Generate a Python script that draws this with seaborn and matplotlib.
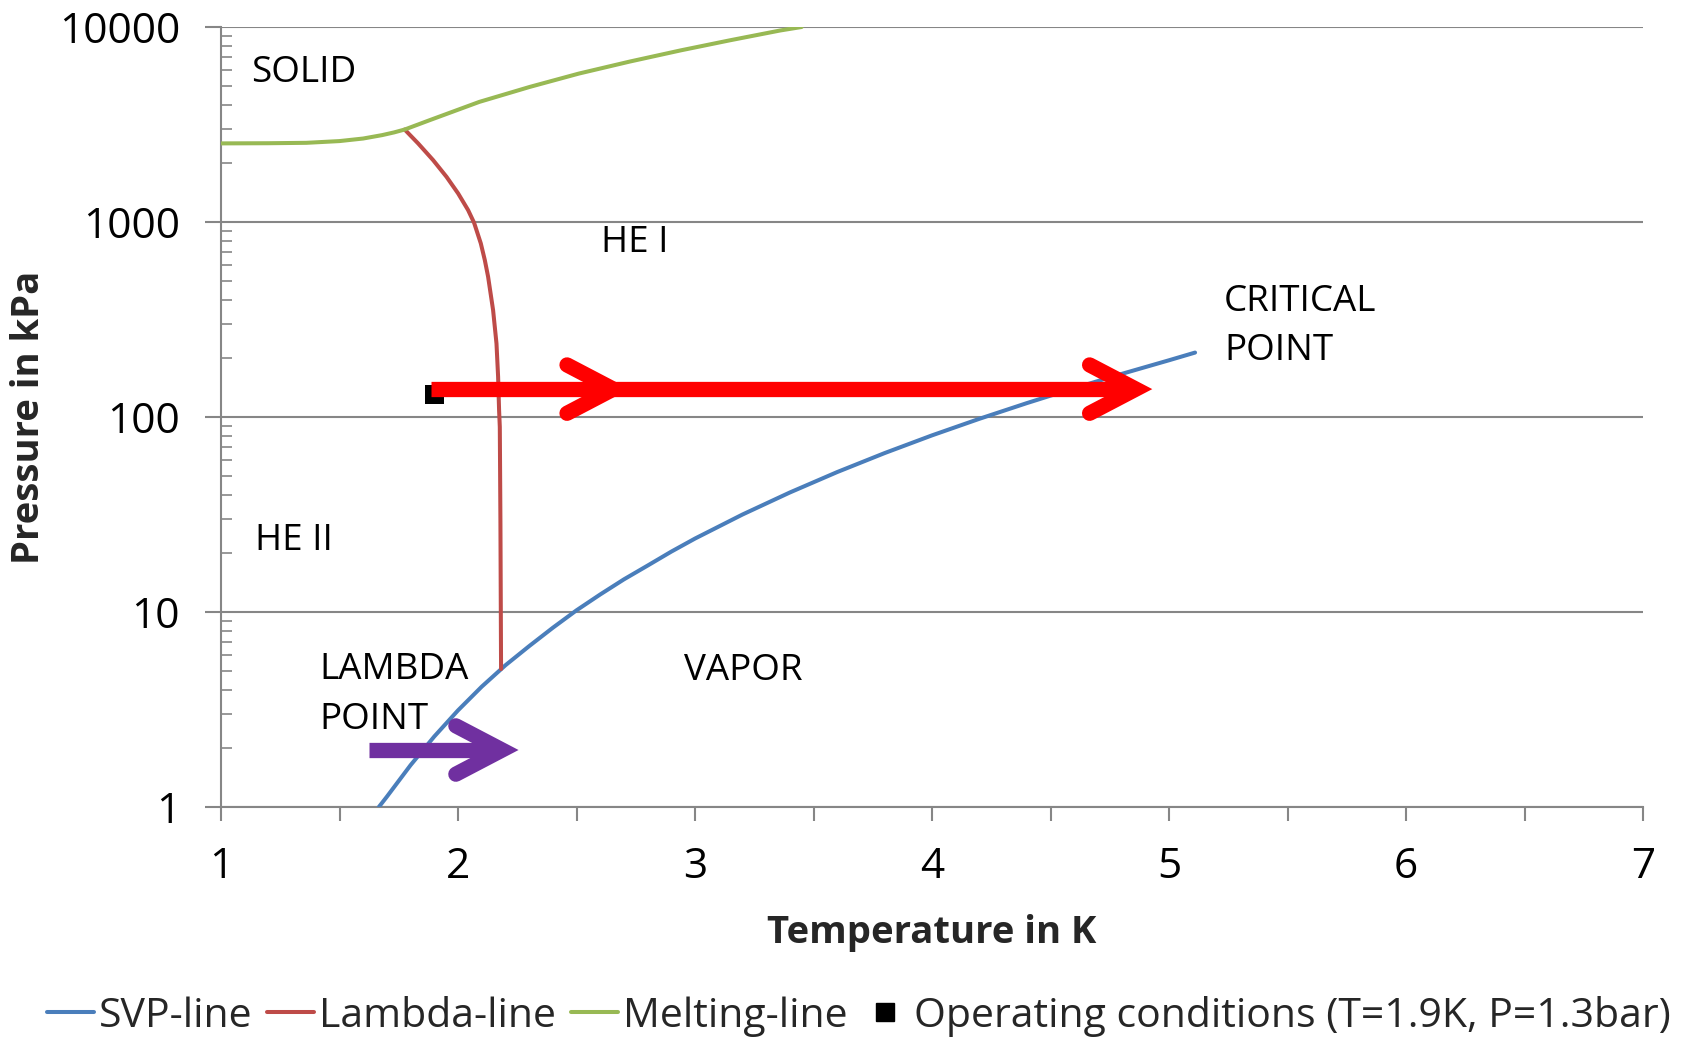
import numpy as np
import pandas as pd
import matplotlib
matplotlib.use("Agg")
import matplotlib.pyplot as plt
from matplotlib.lines import Line2D
from matplotlib.ticker import FixedLocator, FixedFormatter, LogLocator, NullFormatter, MultipleLocator
import seaborn as sns

# ---- Helium-4 phase boundaries (T in K, P in kPa) ----
svp_T = [1.666, 1.7, 1.8, 1.9, 2.0, 2.1, 2.2, 2.3, 2.4, 2.5, 2.6, 2.7, 2.8, 2.9, 3.0,
         3.2, 3.4, 3.6, 3.8, 4.0, 4.2, 4.4, 4.6, 4.8, 5.0, 5.11]
svp_P = [1.0, 1.13, 1.64, 2.30, 3.13, 4.14, 5.33, 6.68, 8.30, 10.2, 12.3, 14.7, 17.3, 20.4, 23.8,
         31.6, 41.0, 52.2, 65.3, 80.5, 97.9, 117.8, 140.5, 166.3, 195.4, 214.0]

lambda_T = [2.1817, 2.1790, 2.1764, 2.1734, 2.1692, 2.1624, 2.1481, 2.1270, 2.1131,
            2.0962, 2.0679, 2.0426, 2.0004, 1.9515, 1.8949, 1.8316, 1.775]
lambda_P = [5.1, 29.2, 89.0, 108.0, 161.0, 238.0, 353.0, 524.0, 638.0,
            777.0, 991.0, 1151.0, 1402.0, 1705.0, 2077.0, 2530.0, 2980.0]

melt_T = [1.0, 1.2, 1.36, 1.5, 1.6, 1.68, 1.73, 1.775, 1.881, 2.09, 2.303, 2.51, 2.725,
          2.94, 3.146, 3.36, 3.45]
melt_P = [2530.0, 2535.0, 2547.0, 2600.0, 2680.0, 2790.0, 2880.0, 2980.0, 3330.0, 4130.0,
          4930.0, 5770.0, 6650.0, 7590.0, 8540.0, 9600.0, 10000.0]

op_T = [1.9]
op_P = [130.0]

# region labels: (text, T, P)
region_text = ["SOLID", "HE I", "HE II", "CRITICAL\nPOINT", "VAPOR", "LAMBDA\nPOINT"]
region_T = [1.127, 2.604, 1.145, 5.232, 2.953, 1.417]
region_P = [5800.0, 782.0, 23.2, 292.0, 5.0, 3.75]

x_ticks = [1, 2, 3, 4, 5, 6, 7]
y_ticks = [1, 10, 100, 1000, 10000]
y_tick_labels = ["1", "10", "100", "1000", "10000"]

legend_labels = ["SVP-line", "Lambda-line", "Melting-line",
                 "Operating conditions (T=1.9K, P=1.3bar)"]

BLUE = "#4A7EBB"
RED = "#BE4B48"
GREEN = "#98B954"
GRID = "#868686"

sns.set_theme(style="white")
plt.rcParams["font.family"] = ["Open Sans", "DejaVu Sans"]

fig = plt.figure(figsize=(16.84, 10.39), dpi=100)
ax = fig.add_axes([221 / 1684, 1 - 807 / 1039, (1643 - 221) / 1684, (807 - 27) / 1039])
ax.set_yscale("log")

svp = pd.DataFrame({"T": svp_T, "P": svp_P})
lam = pd.DataFrame({"T": lambda_T, "P": lambda_P})
melt = pd.DataFrame({"T": melt_T, "P": melt_P})
op = pd.DataFrame({"T": op_T, "P": op_P})

line_kw = dict(sort=False, estimator=None, linewidth=2.9, ax=ax, legend=False)
sns.lineplot(data=svp, x="T", y="P", color=BLUE, zorder=3, **line_kw)
sns.lineplot(data=lam, x="T", y="P", color=RED, zorder=3, **line_kw)
sns.lineplot(data=melt, x="T", y="P", color=GREEN, zorder=3, **line_kw)
sns.scatterplot(data=op, x="T", y="P", marker="s", s=190, color="black",
                edgecolor="none", ax=ax, zorder=4, legend=False)

# ---- arrows: straight shaft plus a chevron head ----
ARM_DT = 0.195      # K, horizontal reach of a chevron arm
ARM_DEC = 0.124     # decades, vertical reach of a chevron arm
ARROW_LW = 11.0


def chevron(tip_T, P, color):
    xs = [tip_T - ARM_DT, tip_T, tip_T - ARM_DT]
    ys = [P * 10 ** ARM_DEC, P, P / 10 ** ARM_DEC]
    ax.plot(xs, ys, color=color, lw=ARROW_LW, solid_capstyle="round",
            solid_joinstyle="miter", zorder=6)


def shaft(t0, t1, P, color):
    ax.plot([t0, t1], [P, P], color=color, lw=ARROW_LW,
            solid_capstyle="butt", zorder=6)


red_P = 139.0
shaft(1.884, 4.84, red_P, "#FF0000")
chevron(2.655, red_P, "#FF0000")
chevron(4.86, red_P, "#FF0000")

purple_P = 1.96
shaft(1.625, 2.17, purple_P, "#7030A0")
chevron(2.186, purple_P, "#7030A0")

for txt, t, p in zip(region_text, region_T, region_P):
    ax.text(t, p, txt, fontsize=26.5, ha="left", va="center", color="black",
            linespacing=1.5, zorder=5)

# ---- axes styling ----
ax.set_xlim(1, 7)
ax.set_ylim(1, 10000)
ax.xaxis.set_major_locator(FixedLocator(x_ticks))
ax.xaxis.set_minor_locator(MultipleLocator(0.5))
ax.yaxis.set_major_locator(FixedLocator(y_ticks))
ax.yaxis.set_major_formatter(FixedFormatter(y_tick_labels))
ax.yaxis.set_minor_locator(LogLocator(base=10, subs=np.arange(2, 10)))
ax.yaxis.set_minor_formatter(NullFormatter())

ax.grid(False)
ax.yaxis.grid(True, which="major", color=GRID, linewidth=1.5, zorder=1)
for side in ("top", "right"):
    ax.spines[side].set_visible(False)
for side in ("left", "bottom"):
    ax.spines[side].set_color(GRID)
    ax.spines[side].set_linewidth(1.5)

ax.tick_params(axis="x", which="both", direction="out", length=10, width=1.5,
               color=GRID, labelsize=30.5, pad=18, labelcolor="black", bottom=True)
ax.tick_params(axis="y", which="major", direction="out", length=11.5, width=1.5,
               color=GRID, labelsize=30.5, pad=18, labelcolor="black", left=True)
ax.tick_params(axis="y", which="minor", direction="in", length=8, width=1.2,
               color=GRID, left=True)

ax.set_xlabel("Temperature in K", fontsize=27.5, fontweight="bold", labelpad=19)
ax.set_ylabel("Pressure in kPa", fontsize=27.5, fontweight="bold", labelpad=8)

handles = [
    Line2D([], [], color=BLUE, lw=2.9),
    Line2D([], [], color=RED, lw=2.9),
    Line2D([], [], color=GREEN, lw=2.9),
    Line2D([], [], color="black", marker="s", markersize=13, linestyle="none"),
]
fig.legend(handles, legend_labels, loc="center", bbox_to_anchor=(0.51, 0.022),
           ncol=4, frameon=False, fontsize=29.5, handlelength=1.15,
           handletextpad=0.12, columnspacing=0.35, borderaxespad=0, borderpad=0)

fig.savefig("out.png", dpi=100)
